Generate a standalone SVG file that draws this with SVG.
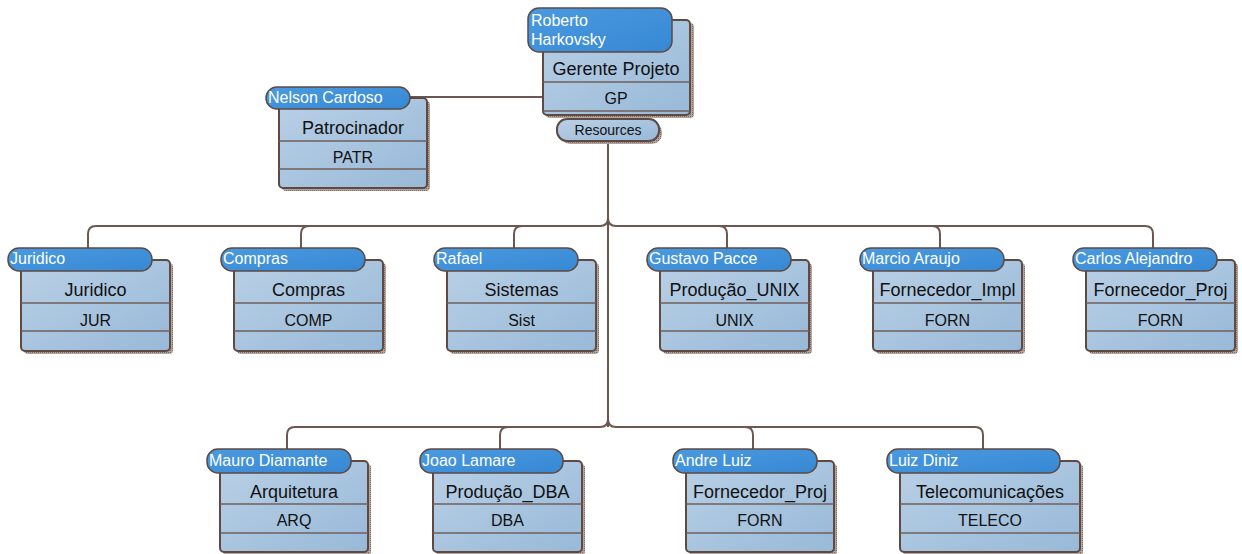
<svg xmlns="http://www.w3.org/2000/svg" width="1242" height="554" viewBox="0 0 1242 554">
<defs>
<linearGradient id="gHead" x1="0" y1="0" x2="1" y2="1">
<stop offset="0" stop-color="#4a9ae0"/>
<stop offset="1" stop-color="#3788d4"/>
</linearGradient>
<linearGradient id="gBody" x1="0" y1="0" x2="1" y2="1">
<stop offset="0" stop-color="#b9d0e6"/>
<stop offset="1" stop-color="#98b9d8"/>
</linearGradient>
<pattern id="hatch" width="2" height="2" patternUnits="userSpaceOnUse">
<rect width="2" height="2" fill="#b3a59e"/>
<rect width="1" height="1" fill="#7d6a62"/>
</pattern>
<style>
.sh{fill:url(#hatch);}
.body{fill:url(#gBody);stroke:#5e4a43;stroke-width:2;}
.head{fill:url(#gHead);stroke:#5e4a43;stroke-width:1.5;}
.sep{stroke:#6f5f5a;stroke-width:1.5;}
.ht{font-family:"Liberation Sans",Arial,sans-serif;font-size:16px;fill:#ffffff;}
.mt{font-family:"Liberation Sans",Arial,sans-serif;font-size:18px;fill:#111111;text-anchor:middle;}
.ct{font-family:"Liberation Sans",Arial,sans-serif;font-size:16px;fill:#111111;text-anchor:middle;}
.rt{font-family:"Liberation Sans",Arial,sans-serif;font-size:14px;fill:#111111;text-anchor:middle;}
.con{fill:none;stroke:#6e5750;stroke-width:2;}
</style>
</defs>

<g id="connectors">
<path class="con" d="M410,97 H543"/>
<path class="con" d="M608,114 V119"/>
<path class="con" d="M608,141 V427"/>
<path class="con" d="M88,248 V234 Q88,226 96,226 H600 Q608,226 608,218"/>
<path class="con" d="M1153,248 V234 Q1153,226 1145,226 H616 Q608,226 608,218"/>
<path class="con" d="M301,248 V234 Q301,226 309,226"/>
<path class="con" d="M514,248 V234 Q514,226 522,226"/>
<path class="con" d="M727,248 V234 Q727,226 719,226"/>
<path class="con" d="M940,248 V234 Q940,226 932,226"/>
<path class="con" d="M287,449 V435 Q287,427 295,427 H600 Q608,427 608,419"/>
<path class="con" d="M983,449 V435 Q983,427 975,427 H616 Q608,427 608,419"/>
<path class="con" d="M500,449 V435 Q500,427 508,427"/>
<path class="con" d="M753,449 V435 Q753,427 745,427"/>
</g>

<g id="n-gp">
<rect class="sh" x="546" y="23" width="148" height="95" rx="4"/>
<rect class="body" x="543" y="20" width="147" height="95" rx="4"/>
<line class="sep" x1="543" y1="82" x2="690" y2="82"/>
<line class="sep" x1="543" y1="111" x2="690" y2="111"/>
<rect class="head" x="528" y="8" width="144" height="44" rx="11"/>
<text class="ht" x="531" y="26">Roberto</text>
<text class="ht" x="531" y="45">Harkovsky</text>
<text class="mt" x="616" y="75">Gerente Projeto</text>
<text class="ct" x="616" y="104">GP</text>
</g>

<g id="n-resources">
<rect class="sh" x="560" y="122" width="102" height="22" rx="10"/>
<rect class="body" x="557" y="119" width="102" height="22" rx="10"/>
<text class="rt" x="608" y="135">Resources</text>
</g>

<g id="n-patr">
<rect class="sh" x="282" y="101" width="148" height="90" rx="4"/>
<rect class="body" x="279" y="98" width="148" height="90" rx="4"/>
<line class="sep" x1="279" y1="141" x2="427" y2="141"/>
<line class="sep" x1="279" y1="169" x2="427" y2="169"/>
<rect class="head" x="266" y="87" width="144" height="22" rx="11"/>
<text class="ht" x="268" y="103">Nelson Cardoso</text>
<text class="mt" x="353" y="134">Patrocinador</text>
<text class="ct" x="353" y="163">PATR</text>
</g>

<g id="n-jur">
<rect class="sh" x="24" y="263" width="149" height="91" rx="4"/>
<rect class="body" x="21" y="260" width="149" height="91" rx="4"/>
<line class="sep" x1="21" y1="303" x2="170" y2="303"/>
<line class="sep" x1="21" y1="331" x2="170" y2="331"/>
<rect class="head" x="8" y="248" width="144" height="23" rx="11"/>
<text class="ht" x="10" y="264">Juridico</text>
<text class="mt" x="95.5" y="296">Juridico</text>
<text class="ct" x="95.5" y="326">JUR</text>
</g>

<g id="n-comp">
<rect class="sh" x="237" y="263" width="149" height="91" rx="4"/>
<rect class="body" x="234" y="260" width="149" height="91" rx="4"/>
<line class="sep" x1="234" y1="303" x2="383" y2="303"/>
<line class="sep" x1="234" y1="331" x2="383" y2="331"/>
<rect class="head" x="221" y="248" width="144" height="23" rx="11"/>
<text class="ht" x="223" y="264">Compras</text>
<text class="mt" x="308.5" y="296">Compras</text>
<text class="ct" x="308.5" y="326">COMP</text>
</g>

<g id="n-sist">
<rect class="sh" x="450" y="263" width="149" height="91" rx="4"/>
<rect class="body" x="447" y="260" width="149" height="91" rx="4"/>
<line class="sep" x1="447" y1="303" x2="596" y2="303"/>
<line class="sep" x1="447" y1="331" x2="596" y2="331"/>
<rect class="head" x="434" y="248" width="144" height="23" rx="11"/>
<text class="ht" x="436" y="264">Rafael</text>
<text class="mt" x="521.5" y="296">Sistemas</text>
<text class="ct" x="521.5" y="326">Sist</text>
</g>

<g id="n-unix">
<rect class="sh" x="663" y="263" width="149" height="91" rx="4"/>
<rect class="body" x="660" y="260" width="149" height="91" rx="4"/>
<line class="sep" x1="660" y1="303" x2="809" y2="303"/>
<line class="sep" x1="660" y1="331" x2="809" y2="331"/>
<rect class="head" x="647" y="248" width="144" height="23" rx="11"/>
<text class="ht" x="649" y="264">Gustavo Pacce</text>
<text class="mt" x="734.5" y="296">Produção_UNIX</text>
<text class="ct" x="734.5" y="326">UNIX</text>
</g>

<g id="n-impl">
<rect class="sh" x="876" y="263" width="149" height="91" rx="4"/>
<rect class="body" x="873" y="260" width="149" height="91" rx="4"/>
<line class="sep" x1="873" y1="303" x2="1022" y2="303"/>
<line class="sep" x1="873" y1="331" x2="1022" y2="331"/>
<rect class="head" x="860" y="248" width="144" height="23" rx="11"/>
<text class="ht" x="862" y="264">Marcio Araujo</text>
<text class="mt" x="947.5" y="296">Fornecedor_Impl</text>
<text class="ct" x="947.5" y="326">FORN</text>
</g>

<g id="n-proj1">
<rect class="sh" x="1089" y="263" width="149" height="91" rx="4"/>
<rect class="body" x="1086" y="260" width="149" height="91" rx="4"/>
<line class="sep" x1="1086" y1="303" x2="1235" y2="303"/>
<line class="sep" x1="1086" y1="331" x2="1235" y2="331"/>
<rect class="head" x="1073" y="248" width="144" height="23" rx="11"/>
<text class="ht" x="1075" y="264">Carlos Alejandro</text>
<text class="mt" x="1160.5" y="296">Fornecedor_Proj</text>
<text class="ct" x="1160.5" y="326">FORN</text>
</g>

<g id="n-arq">
<rect class="sh" x="223" y="464" width="148" height="91" rx="4"/>
<rect class="body" x="220" y="461" width="148" height="91" rx="4"/>
<line class="sep" x1="220" y1="504" x2="368" y2="504"/>
<line class="sep" x1="220" y1="533" x2="368" y2="533"/>
<rect class="head" x="207" y="449" width="144" height="24" rx="11"/>
<text class="ht" x="209" y="466">Mauro Diamante</text>
<text class="mt" x="294" y="498">Arquitetura</text>
<text class="ct" x="294" y="526">ARQ</text>
</g>

<g id="n-dba">
<rect class="sh" x="436" y="464" width="149" height="91" rx="4"/>
<rect class="body" x="433" y="461" width="149" height="91" rx="4"/>
<line class="sep" x1="433" y1="504" x2="582" y2="504"/>
<line class="sep" x1="433" y1="533" x2="582" y2="533"/>
<rect class="head" x="420" y="449" width="143" height="24" rx="11"/>
<text class="ht" x="422" y="466">Joao Lamare</text>
<text class="mt" x="507.5" y="498">Produção_DBA</text>
<text class="ct" x="507.5" y="526">DBA</text>
</g>

<g id="n-proj2">
<rect class="sh" x="689" y="464" width="148" height="91" rx="4"/>
<rect class="body" x="686" y="461" width="148" height="91" rx="4"/>
<line class="sep" x1="686" y1="504" x2="834" y2="504"/>
<line class="sep" x1="686" y1="533" x2="834" y2="533"/>
<rect class="head" x="673" y="449" width="144" height="24" rx="11"/>
<text class="ht" x="675" y="466">Andre Luiz</text>
<text class="mt" x="760" y="498">Fornecedor_Proj</text>
<text class="ct" x="760" y="526">FORN</text>
</g>

<g id="n-teleco">
<rect class="sh" x="903" y="464" width="180" height="91" rx="4"/>
<rect class="body" x="900" y="461" width="180" height="91" rx="4"/>
<line class="sep" x1="900" y1="504" x2="1080" y2="504"/>
<line class="sep" x1="900" y1="533" x2="1080" y2="533"/>
<rect class="head" x="887" y="449" width="173" height="24" rx="11"/>
<text class="ht" x="889" y="466">Luiz Diniz</text>
<text class="mt" x="990" y="498">Telecomunicações</text>
<text class="ct" x="990" y="526">TELECO</text>
</g>
</svg>
